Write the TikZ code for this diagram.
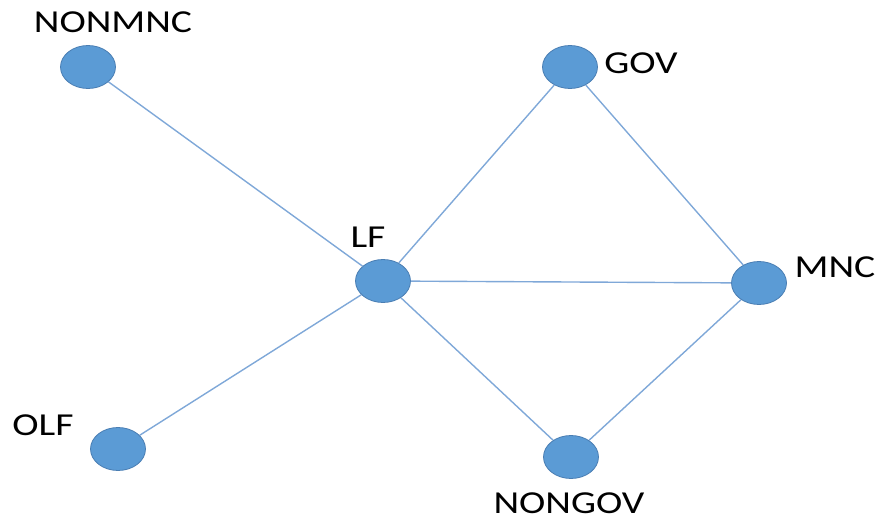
\documentclass[tikz,border=0pt]{standalone}
\usepackage{fontspec}
\setmainfont{Carlito}
\usetikzlibrary{shapes.geometric}
\definecolor{dotfill}{HTML}{5B9BD5}
\definecolor{dotedge}{HTML}{4A7EB3}
\definecolor{linkblue}{HTML}{7FA8D8}
\tikzset{
  dot/.style={ellipse, fill=dotfill, draw=dotedge, line width=0.8pt,
              minimum width=55pt, minimum height=43pt, inner sep=0pt},
  lbl/.style={anchor=base, inner sep=0pt, text=black,
              font=\fontsize{32pt}{32pt}\selectfont},
  link/.style={draw=linkblue, line width=1.4pt}
}
\newcommand{\wide}[1]{\scalebox{1.24}[1]{#1}}
\begin{document}
\begin{tikzpicture}[x=1pt, y=-1pt]
  \useasboundingbox (0,0) rectangle (881,522);
  % nodes
  \node[dot] (nonmnc) at (88,67) {};
  \node[dot] (gov)    at (570,67) {};
  \node[dot] (lf)     at (383,281) {};
  \node[dot] (mnc)    at (759,283) {};
  \node[dot] (olf)    at (118,449) {};
  \node[dot] (nongov) at (571,457) {};
  % labels
  \node[lbl] (tnonmnc) at (113,32)  {\wide{NONMNC}};
  \node[lbl] (tgov)    at (641,73)  {\wide{GOV}};
  \node[lbl] (tlf)     at (368,247) {\wide{LF}};
  \node[lbl] (tmnc)    at (835,277) {\wide{MNC}};
  \node[lbl] (tolf)    at (43,435)  {\wide{OLF}};
  \node[lbl] (tnongov) at (569,513) {\wide{NONGOV}};
  % links
  \path[link] (nonmnc) -- (lf);
  \path[link] (olf) -- (lf);
  \path[link] (lf) -- (gov);
  \path[link] (lf) -- (mnc);
  \path[link] (lf) -- (nongov);
  \path[link] (gov) -- (mnc);
  \path[link] (nongov) -- (mnc);
\end{tikzpicture}
\end{document}
